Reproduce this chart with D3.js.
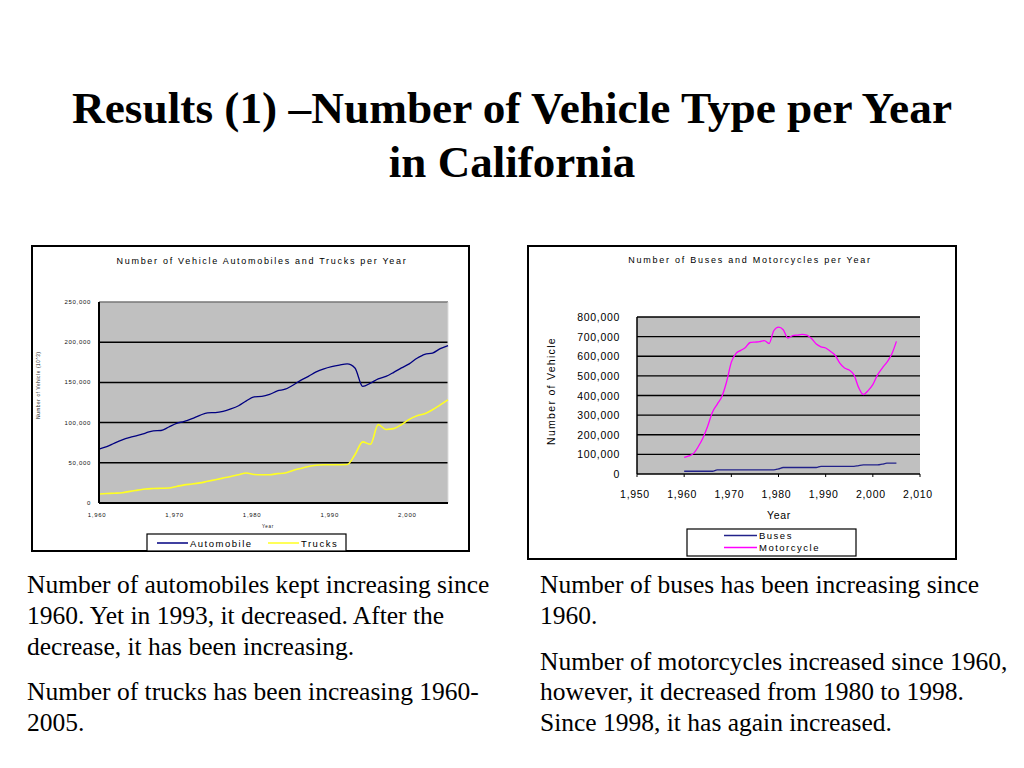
<!DOCTYPE html>
<html>
<head>
<meta charset="utf-8">
<script src="https://cdn.jsdelivr.net/npm/d3@7"></script>
<style>
  body { margin: 0; background: #fff; }
  svg { display: block; }
</style>
</head>
<body>
<script>
// years shown in both charts
const years = [1960, 1961, 1962, 1963, 1964, 1965, 1966, 1967, 1968, 1969,
  1970, 1971, 1972, 1973, 1974, 1975, 1976, 1977, 1978, 1979,
  1980, 1981, 1982, 1983, 1984, 1985, 1986, 1987, 1988, 1989,
  1990, 1991, 1992, 1993, 1994, 1995, 1996, 1997, 1998, 1999,
  2000, 2001, 2002, 2003, 2004, 2005];

const automobiles = [67000, 70000, 74500, 78500, 81500, 84000, 87000, 89800, 90200, 94500,
  99000, 101500, 105000, 109000, 112200, 112500, 114000, 117000, 121000, 127000,
  132000, 132500, 135000, 139500, 141500, 146500, 152500, 157500, 163000, 166800,
  169500, 171500, 173000, 168000, 145000, 149000, 154400, 157500, 162500, 168000,
  173000, 180000, 185000, 186500, 192000, 195800];

const trucks = [11200, 11800, 12200, 12800, 14500, 16000, 17500, 18000, 18300, 18600,
  20500, 22500, 23600, 25000, 27000, 29000, 31000, 33000, 35200, 37300,
  35500, 35200, 35200, 36500, 37300, 40500, 43000, 45500, 47000, 47500,
  47600, 47600, 47800, 60000, 76000, 73000, 97500, 91500, 92500, 97500,
  104000, 108500, 111000, 116000, 122000, 128300];

const buses = [14000, 14000, 14000, 14000, 14000, 14000, 14000, 21000, 21000, 21000,
  21000, 21000, 21000, 21000, 21000, 21000, 21000, 21000, 21000, 21000,
  26000, 33000, 33000, 33000, 33000, 33000, 33000, 33000, 33000, 39000,
  39000, 39000, 39000, 39000, 39000, 39000, 39000, 43000, 46000, 46000,
  46000, 46000, 50000, 55000, 55000, 55000];

const motorcycles = [85000, 92000, 105000, 140000, 185000, 245000, 315000, 355000, 395000, 470000,
  570000, 615000, 630000, 645000, 670000, 672000, 674000, 680000, 665000, 730000,
  748000, 735000, 693000, 705000, 708000, 711000, 708000, 690000, 662000, 648000,
  642000, 625000, 605000, 565000, 540000, 530000, 505000, 440000, 405000, 425000,
  455000, 505000, 540000, 570000, 610000, 676000];

const leftTicksY = [0, 50000, 100000, 150000, 200000, 250000];
const leftTicksX = [1960, 1970, 1980, 1990, 2000];
const rightTicksY = [0, 100000, 200000, 300000, 400000, 500000, 600000, 700000, 800000];
const rightTicksX = [1950, 1960, 1970, 1980, 1990, 2000, 2010];

const titleLines = ["Results (1) \u2013Number of Vehicle Type per Year", "in California"];
const leftNotes = [
  ["Number of automobiles kept increasing since", "1960. Yet in 1993, it decreased. After the", "decrease, it has been  increasing."],
  ["Number of trucks has been increasing 1960-", "2005."]
];
const rightNotes = [
  ["Number of buses has been increasing since", "1960."],
  ["Number of motorcycles increased since 1960,", "however, it decreased from 1980 to 1998.", "Since 1998, it has again increased."]
];

const fmt = d3.format(",");
const sans = "Liberation Sans, Arial, sans-serif";
const serif = "Liberation Serif, Times New Roman, serif";

const svg = d3.select("body").append("svg")
    .attr("width", 1024)
    .attr("height", 768);

// slide title
svg.append("g")
    .attr("font-family", serif)
    .attr("font-weight", "bold")
    .attr("font-size", 45)
    .attr("text-anchor", "middle")
  .selectAll("text")
  .data(titleLines)
  .join("text")
    .attr("x", 512)
    .attr("y", (d, i) => 123 + i * 54)
    .attr("textLength", (d, i) => i === 0 ? 880 : null)
    .attr("lengthAdjust", "spacingAndGlyphs")
    .text(d => d);

// ---------- left chart: automobiles and trucks ----------
{
  const g = svg.append("g");
  g.append("rect")
      .attr("x", 32).attr("y", 246)
      .attr("width", 437).attr("height", 305)
      .attr("fill", "#fff").attr("stroke", "#000").attr("stroke-width", 2);

  const x = d3.scaleLinear().domain([1960, 2005]).range([99, 448]);
  const y = d3.scaleLinear().domain([0, 250000]).range([503, 302]);

  g.append("rect")
      .attr("x", x.range()[0]).attr("y", y(250000))
      .attr("width", x.range()[1] - x.range()[0])
      .attr("height", y(0) - y(250000))
      .attr("fill", "#c0c0c0");

  g.append("g")
      .attr("stroke", "#000").attr("stroke-width", 1.5)
    .selectAll("line")
    .data(leftTicksY.filter(d => d > 0 && d < 250000))
    .join("line")
      .attr("x1", x.range()[0]).attr("x2", x.range()[1])
      .attr("y1", d => y(d)).attr("y2", d => y(d));

  g.append("line")
      .attr("x1", x.range()[0]).attr("x2", x.range()[1])
      .attr("y1", y(250000)).attr("y2", y(250000))
      .attr("stroke", "#777").attr("stroke-width", 1.5);
  g.append("line")
      .attr("x1", x.range()[1]).attr("x2", x.range()[1])
      .attr("y1", y(250000)).attr("y2", y(0))
      .attr("stroke", "#ddd").attr("stroke-width", 1);

  const line = d3.line()
      .x((d, i) => x(years[i]))
      .y(d => y(d))
      .curve(d3.curveMonotoneX);

  g.append("path")
      .attr("d", line(automobiles))
      .attr("fill", "none").attr("stroke", "#000080").attr("stroke-width", 1.3);
  g.append("path")
      .attr("d", line(trucks))
      .attr("fill", "none").attr("stroke", "#ffff22").attr("stroke-width", 1.6);

  // axes
  g.append("line")
      .attr("x1", x.range()[0]).attr("x2", x.range()[0])
      .attr("y1", y(250000)).attr("y2", y(0))
      .attr("stroke", "#000").attr("stroke-width", 2);
  g.append("line")
      .attr("x1", x.range()[0]).attr("x2", x.range()[1])
      .attr("y1", y(0)).attr("y2", y(0))
      .attr("stroke", "#000").attr("stroke-width", 2);

  const tiny = g.append("g")
      .attr("font-family", sans)
      .attr("font-size", 6)
      .attr("letter-spacing", 0.7)
      .attr("fill", "#111");

  tiny.selectAll(".yt")
    .data(leftTicksY)
    .join("text")
      .attr("class", "yt")
      .attr("x", 91)
      .attr("y", d => y(d) + 2)
      .attr("text-anchor", "end")
      .text(d => fmt(d));

  tiny.selectAll(".xt")
    .data(leftTicksX)
    .join("text")
      .attr("class", "xt")
      .attr("x", d => x(d) - 2)
      .attr("y", 517)
      .attr("text-anchor", "middle")
      .text(d => fmt(d));

  tiny.append("text")
      .attr("x", 268).attr("y", 528)
      .attr("text-anchor", "middle")
      .attr("font-size", 4.5)
      .text("Year");

  tiny.append("text")
      .attr("transform", "translate(40,385) rotate(-90)")
      .attr("text-anchor", "middle")
      .attr("font-size", 4.5)
      .text("Number of Vehicle (10^3)");

  g.append("text")
      .attr("x", 262).attr("y", 264)
      .attr("text-anchor", "middle")
      .attr("font-family", sans)
      .attr("font-size", 9)
      .attr("letter-spacing", 1.7)
      .text("Number of Vehicle Automobiles and Trucks per Year");

  // legend
  const lg = g.append("g");
  lg.append("rect")
      .attr("x", 147).attr("y", 534)
      .attr("width", 199).attr("height", 17)
      .attr("fill", "#fff").attr("stroke", "#000").attr("stroke-width", 1.2);
  const legendItems = [
    { name: "Automobile", color: "#000080", x0: 157 },
    { name: "Trucks", color: "#ffff22", x0: 268 }
  ];
  lg.selectAll("line")
    .data(legendItems)
    .join("line")
      .attr("x1", d => d.x0).attr("x2", d => d.x0 + 31)
      .attr("y1", 543).attr("y2", 543)
      .attr("stroke", d => d.color).attr("stroke-width", 1.5);
  lg.selectAll("text")
    .data(legendItems)
    .join("text")
      .attr("x", d => d.x0 + 33)
      .attr("y", 546.5)
      .attr("font-family", sans)
      .attr("font-size", 9.5)
      .attr("letter-spacing", 1.5)
      .text(d => d.name);
}

// ---------- right chart: buses and motorcycles ----------
{
  const g = svg.append("g");
  g.append("rect")
      .attr("x", 528).attr("y", 246)
      .attr("width", 428).attr("height", 313)
      .attr("fill", "#fff").attr("stroke", "#000").attr("stroke-width", 2);

  const x = d3.scaleLinear().domain([1950, 2010]).range([637, 920]);
  const y = d3.scaleLinear().domain([0, 800000]).range([474, 317]);

  g.append("rect")
      .attr("x", x.range()[0]).attr("y", y(800000))
      .attr("width", x.range()[1] - x.range()[0])
      .attr("height", y(0) - y(800000))
      .attr("fill", "#c0c0c0");

  g.append("g")
      .attr("stroke", "#000").attr("stroke-width", 1.4)
    .selectAll("line")
    .data(rightTicksY.filter(d => d > 0))
    .join("line")
      .attr("x1", x.range()[0]).attr("x2", x.range()[1])
      .attr("y1", d => y(d)).attr("y2", d => y(d));

  const line = d3.line()
      .x((d, i) => x(years[i]))
      .y(d => y(d))
      .curve(d3.curveMonotoneX);

  g.append("path")
      .attr("d", line(buses))
      .attr("fill", "none").attr("stroke", "#22228a").attr("stroke-width", 1.3);
  g.append("path")
      .attr("d", line(motorcycles))
      .attr("fill", "none").attr("stroke", "#ff00ff").attr("stroke-width", 1.3);

  g.append("line")
      .attr("x1", x.range()[0]).attr("x2", x.range()[0])
      .attr("y1", y(800000)).attr("y2", y(0))
      .attr("stroke", "#000").attr("stroke-width", 1.5);
  g.append("line")
      .attr("x1", x.range()[0]).attr("x2", x.range()[1])
      .attr("y1", y(0)).attr("y2", y(0))
      .attr("stroke", "#000").attr("stroke-width", 1.5);
  g.append("g")
      .attr("stroke", "#000").attr("stroke-width", 1)
    .selectAll("line")
    .data(rightTicksX)
    .join("line")
      .attr("x1", d => x(d)).attr("x2", d => x(d))
      .attr("y1", y(0)).attr("y2", y(0) + 3);

  const lab = g.append("g")
      .attr("font-family", sans)
      .attr("font-size", 10.5)
      .attr("letter-spacing", 0.7)
      .attr("fill", "#000");

  lab.selectAll(".yt")
    .data(rightTicksY)
    .join("text")
      .attr("class", "yt")
      .attr("x", 620)
      .attr("y", d => y(d) + 4)
      .attr("text-anchor", "end")
      .text(d => fmt(d));

  lab.selectAll(".xt")
    .data(rightTicksX)
    .join("text")
      .attr("class", "xt")
      .attr("x", d => x(d) - 2)
      .attr("y", 498)
      .attr("text-anchor", "middle")
      .text(d => fmt(d));

  lab.append("text")
      .attr("x", 779).attr("y", 519)
      .attr("text-anchor", "middle")
      .text("Year");

  lab.append("text")
      .attr("transform", "translate(555,391) rotate(-90)")
      .attr("text-anchor", "middle")
      .attr("letter-spacing", 1.3)
      .text("Number of Vehicle");

  g.append("text")
      .attr("x", 750).attr("y", 263)
      .attr("text-anchor", "middle")
      .attr("font-family", sans)
      .attr("font-size", 9)
      .attr("letter-spacing", 1.75)
      .text("Number of Buses and Motorcycles per Year");

  const lg = g.append("g");
  lg.append("rect")
      .attr("x", 687).attr("y", 529)
      .attr("width", 169).attr("height", 27)
      .attr("fill", "#fff").attr("stroke", "#000").attr("stroke-width", 1.2);
  const legendItems = [
    { name: "Buses", color: "#22228a" },
    { name: "Motorcycle", color: "#ff00ff" }
  ];
  lg.selectAll("line")
    .data(legendItems)
    .join("line")
      .attr("x1", 724).attr("x2", 757)
      .attr("y1", (d, i) => 535.5 + i * 12).attr("y2", (d, i) => 535.5 + i * 12)
      .attr("stroke", d => d.color).attr("stroke-width", 1.5);
  lg.selectAll("text")
    .data(legendItems)
    .join("text")
      .attr("x", 759)
      .attr("y", (d, i) => 539 + i * 12)
      .attr("font-family", sans)
      .attr("font-size", 9.5)
      .attr("letter-spacing", 1.5)
      .text(d => d.name);
}

// ---------- notes under the charts ----------
function notes(groups, x0, baselines) {
  const g = svg.append("g")
      .attr("font-family", serif)
      .attr("font-size", 25.5)
      .style("white-space", "pre");
  let k = 0;
  groups.forEach(lines => {
    lines.forEach(t => {
      g.append("text")
          .attr("x", x0)
          .attr("y", baselines[k++])
          .text(t);
    });
  });
}
notes(leftNotes, 27, [593, 624, 655, 700, 731]);
notes(rightNotes, 540, [593, 624, 670, 700, 731]);
</script>
</body>
</html>
